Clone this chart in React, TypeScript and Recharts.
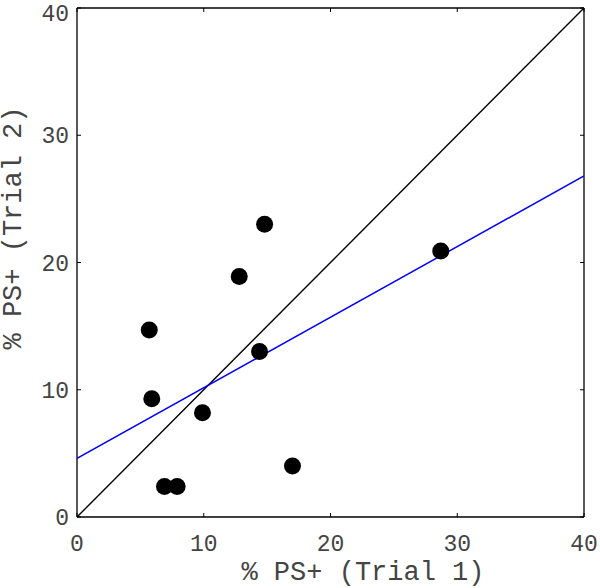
import React from 'react';
import { ScatterChart, Scatter, XAxis, YAxis } from 'recharts';

// % PS+ in trial 1 vs trial 2
const trial1 = [5.7, 5.9, 6.9, 7.9, 9.9, 12.8, 14.4, 14.8, 17.0, 28.7];
const trial2 = [14.7, 9.3, 2.4, 2.4, 8.2, 18.9, 13.0, 23.0, 4.0, 20.9];
const ticks = [0, 10, 20, 30, 40];

// identity line and fitted regression line (ends at x = 0 and x = 40)
const identityX = [0, 40];
const identityY = [0, 40];
const fitX = [0, 40];
const fitY = [4.6, 26.8];

const points = trial1.map((x, i) => ({ x, y: trial2[i] }));
const identity = identityX.map((x, i) => ({ x, y: identityY[i] }));
const fit = fitX.map((x, i) => ({ x, y: fitY[i] }));

const FONT = '"Liberation Mono", "DejaVu Sans Mono", monospace';
const tickStyle = { fontFamily: FONT, fontSize: 23, fill: '#444' };
const axisLine = { stroke: '#000', strokeWidth: 1.3 };

const Dot = (props: any) => <circle cx={props.cx} cy={props.cy} r={8.5} fill="#000" />;
const NoDot = () => <g />;

const App: React.FC = () => {
  return (
    <div style={{ position: 'absolute', left: 0, top: 0 }}>
      <ScatterChart width={600} height={588} margin={{ top: 7, right: 15, left: 0, bottom: 0 }}>
        <XAxis
          xAxisId="b"
          type="number"
          dataKey="x"
          domain={[0, 40]}
          ticks={ticks}
          height={71}
          tickSize={-4}
          tickMargin={22}
          axisLine={axisLine}
          tickLine={{ stroke: '#000' }}
          tick={tickStyle}
          allowDataOverflow
          label={() => (
            <text x={363} y={580} textAnchor="middle" style={{ fontFamily: FONT, fontSize: 27, fill: '#444' }}>
              % PS+ (Trial 1)
            </text>
          )}
        />
        <XAxis
          xAxisId="t"
          orientation="top"
          type="number"
          dataKey="x"
          domain={[0, 40]}
          ticks={ticks}
          height={1}
          tickSize={-4}
          axisLine={axisLine}
          tickLine={{ stroke: '#000' }}
          tick={NoDot}
          allowDataOverflow
        />
        <YAxis
          yAxisId="l"
          type="number"
          dataKey="y"
          domain={[0, 40]}
          ticks={ticks}
          width={77}
          tickSize={-4}
          tickMargin={12}
          axisLine={axisLine}
          tickLine={{ stroke: '#000' }}
          tick={tickStyle}
          allowDataOverflow
          label={() => (
            <text
              x={21}
              y={228}
              transform="rotate(-90 21 228)"
              textAnchor="middle"
              style={{ fontFamily: FONT, fontSize: 27, fill: '#444' }}
            >
              % PS+ (Trial 2)
            </text>
          )}
        />
        <YAxis
          yAxisId="r"
          orientation="right"
          type="number"
          dataKey="y"
          domain={[0, 40]}
          ticks={ticks}
          width={1}
          tickSize={-4}
          axisLine={axisLine}
          tickLine={{ stroke: '#000' }}
          tick={NoDot}
          allowDataOverflow
        />
        <Scatter
          xAxisId="b"
          yAxisId="l"
          data={identity}
          line={{ stroke: '#000', strokeWidth: 1.4 }}
          shape={NoDot}
          isAnimationActive={false}
        />
        <Scatter
          xAxisId="b"
          yAxisId="l"
          data={fit}
          line={{ stroke: '#0000ff', strokeWidth: 1.5 }}
          shape={NoDot}
          isAnimationActive={false}
        />
        <Scatter xAxisId="b" yAxisId="l" data={points} shape={Dot} isAnimationActive={false} />
      </ScatterChart>
    </div>
  );
};

export default App;
